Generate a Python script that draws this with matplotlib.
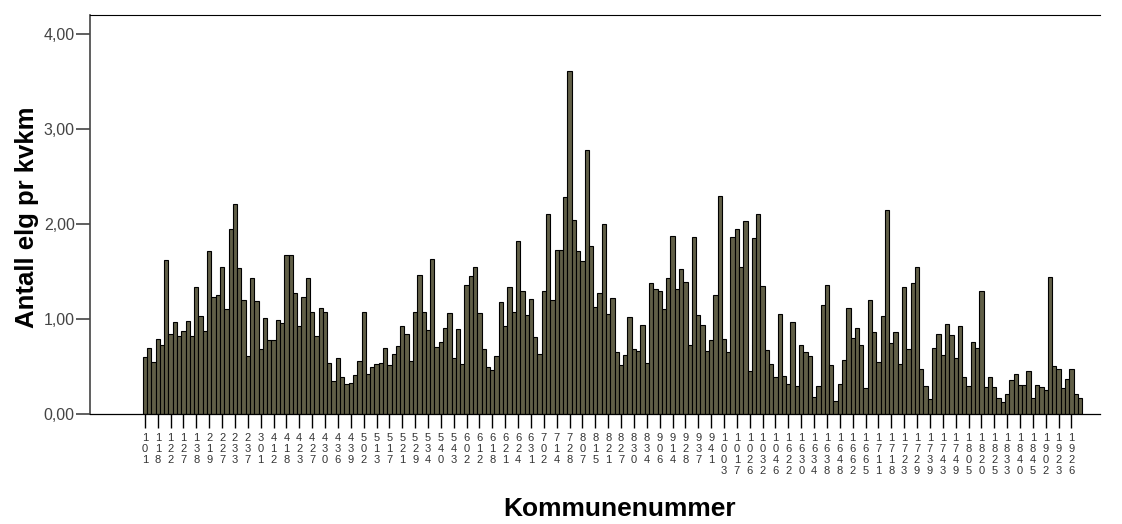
import matplotlib.pyplot as plt
import numpy as np

plt.rcParams['font.family'] = ['Liberation Sans', 'DejaVu Sans']

# moose per km2, one bar per kommune (219 bars)
elg_pr_kvkm = [
    0.60, 0.70, 0.55, 0.79, 0.73, 1.62, 0.84, 0.97, 0.82, 0.87,
    0.98, 0.82, 1.34, 1.03, 0.87, 1.72, 1.23, 1.25, 1.55, 1.11,
    1.95, 2.21, 1.54, 1.20, 0.61, 1.43, 1.19, 0.68, 1.01, 0.78,
    0.78, 0.99, 0.96, 1.67, 1.67, 1.27, 0.93, 1.23, 1.43, 1.07,
    0.82, 1.12, 1.07, 0.54, 0.35, 0.59, 0.39, 0.32, 0.33, 0.41,
    0.56, 1.07, 0.42, 0.49, 0.53,
    0.54, 0.70, 0.52, 0.63, 0.72, 0.93, 0.84, 0.56, 1.07, 1.46,
    1.07, 0.88, 1.63, 0.71, 0.76, 0.91, 1.06, 0.59, 0.89, 0.53,
    1.36, 1.45, 1.55, 1.06, 0.68, 0.49, 0.46, 0.61, 1.18, 0.93,
    1.34, 1.07, 1.82, 1.29, 1.04, 1.21, 0.81, 0.63, 1.29, 2.11,
    1.20, 1.73, 1.73, 2.28, 3.61, 2.04, 1.72, 1.61, 2.78, 1.77,
    1.13, 1.27, 2.00, 1.05, 1.22, 0.65, 0.52,
    0.62, 1.02, 0.68, 0.66, 0.94, 0.54, 1.38, 1.32,
    1.29, 1.11, 1.43, 1.87, 1.32, 1.53, 1.39, 0.73, 1.86, 1.04,
    0.94, 0.66, 0.78, 1.25, 2.30, 0.79, 0.65, 1.86, 1.95, 1.55,
    2.03, 0.45, 1.85, 2.11, 1.35, 0.67, 0.53, 0.39, 1.05, 0.40,
    0.32, 0.97, 0.29, 0.73, 0.65, 0.61, 0.18, 0.29, 1.15, 1.36,
    0.52, 0.14, 0.32, 0.57, 1.12, 0.80, 0.91, 0.73,
    0.27, 1.20,
    0.86, 0.55, 1.03, 2.15, 0.75, 0.86, 0.53, 1.34, 0.68, 1.38,
    1.55, 0.47, 0.29, 0.16, 0.69, 0.84, 0.62, 0.95, 0.83, 0.59,
    0.93, 0.39, 0.29, 0.76, 0.69, 1.29, 0.28, 0.39, 0.28, 0.17,
    0.13, 0.21, 0.36, 0.42, 0.31, 0.31, 0.45, 0.17, 0.31, 0.28,
    0.25, 1.44, 0.51, 0.47, 0.27, 0.37, 0.47, 0.21, 0.17,
]

# kommunenummer shown under every third bar
tick_labels = [
    '101', '118', '122', '127', '138', '219', '227', '233', '237', '301',
    '412', '418', '423', '427', '430', '436', '439', '502', '513', '517',
    '521', '529', '534', '540', '543', '602', '612', '618', '621', '624',
    '631', '702', '714', '728', '807', '815', '821', '827', '830', '834',
    '906', '914', '928', '937', '941', '1003', '1017', '1026', '1032', '1046',
    '1622', '1630', '1634', '1638', '1648', '1662', '1665', '1711', '1718', '1723',
    '1729', '1739', '1743', '1749', '1805', '1820', '1825', '1833', '1840', '1845',
    '1902', '1923', '1926',
]

y_ticks = [0, 1, 2, 3, 4]
y_tick_labels = ['0,00', '1,00', '2,00', '3,00', '4,00']

W, H = 1122, 524
fig = plt.figure(figsize=(W / 100, H / 100), dpi=100)
ax = fig.add_axes([90 / W, 1 - 414 / H, 1010 / W, 399 / H])

x = np.arange(len(elg_pr_kvkm))
ax.bar(x, elg_pr_kvkm, width=1.0, color='#615f47', edgecolor='black', linewidth=0.8)

ax.set_xlim(-12.79, 222.65)
ax.set_ylim(0, 4.2)

ax.set_yticks(y_ticks)
ax.set_yticklabels(y_tick_labels, fontsize=11.5, color='#444444')
ax.tick_params(axis='y', length=10, width=1.2, color='#444444', pad=1)

ax.set_xticks(x[::3])
ax.set_xticklabels(['\n'.join(s) for s in tick_labels], fontsize=8,
                   linespacing=1.12, color='#333333')
ax.tick_params(axis='x', length=10, width=1.0, color='black', pad=4)

ax.spines['top'].set_linewidth(0.8)
ax.spines['right'].set_visible(False)
ax.spines['left'].set_color('#444444')
ax.spines['left'].set_linewidth(1.2)
ax.spines['bottom'].set_linewidth(0.9)

fig.text(27 / W, 1 - 217 / H, 'Antall elg pr kvkm', rotation=90,
         fontsize=18.5, fontweight='bold', ha='center', va='center')
fig.text(620 / W, 1 - 509 / H, 'Kommunenummer',
         fontsize=19, fontweight='bold', ha='center', va='center')

fig.savefig('out.png', dpi=100)
